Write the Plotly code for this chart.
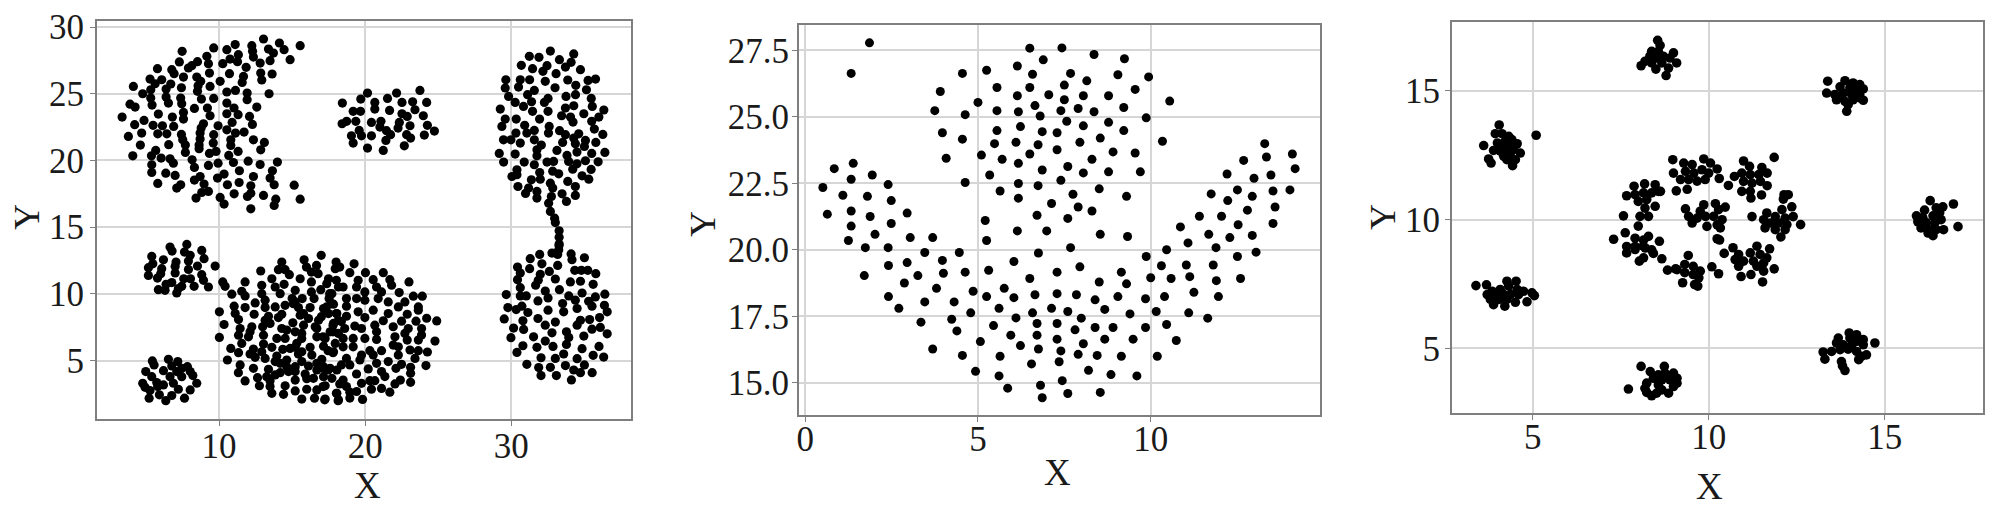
import plotly.graph_objects as go

# ---------- Panel 1 values (x, y) ----------
p1_crescent = [(13.04,29.1),(15.55,28.6),(14.13,28.8),(14.45,28.3),(12.24,28.6),(11.1,28.68),(9.63,28.43),(10.53,28.3),(12.29,28.18),(13.38,28.35),(13.72,28.05),(11.32,27.93),(10.75,27.6),(11.26,27.4),(12.35,27.75),(12.81,27.3),(13.49,27.48),(14.86,27.55),(7.47,28.18),(9.16,27.8),(7.28,27.38),(9.27,27.25),(10.25,27.25),(8.52,27.4),(8.13,27.1),(11.85,26.98),(5.78,26.88),(6.76,26.8),(7.9,26.93),(6.92,26.5),(9.34,26.55),(10.71,26.5),(12.85,26.55),(13.63,26.48),(7.56,26.25),(8.47,26.25),(11.67,26.3),(12.92,26.03),(5.27,26.1),(6.07,26.05),(8.74,25.93),(10.07,25.93),(11.58,25.85),(6.69,25.73),(5.62,25.75),(4.13,25.55),(8.56,25.6),(9.38,25.55),(7.42,25.45),(6.37,25.35),(5.32,25.3),(4.77,25),(8.52,25.18),(10.53,25.13),(11.12,25.25),(11.92,25.05),(13.42,25),(6.37,24.75),(5.32,24.68),(7.37,24.68),(8.79,24.6),(9.63,24.65),(11.92,24.55),(6.53,24.3),(5.41,24.15),(3.9,24.22),(4.25,24.0),(7.44,24.25),(10.53,24.3),(12.58,24),(8.31,23.9),(9.2,23.93),(11.02,23.93),(9.38,23.35),(7.56,23.6),(10.53,23.5),(11.3,23.43),(12.08,23.3),(5.84,23.48),(6.8,23.25),(3.36,23.25),(7.56,23.1),(4.86,23.0),(10.89,22.85),(4.22,22.68),(5.48,22.63),(6.12,22.6),(6.89,22.55),(8.93,22.75),(8.77,22.43),(9.93,22.6),(12.28,22.7),(10.53,22.3),(4.7,22.05),(5.8,22),(6.42,22),(8.7,22.05),(11.12,22.05),(11.71,22.13),(3.79,21.8),(7.42,21.95),(9.63,21.93),(8.7,21.6),(7.51,21.55),(10.8,21.55),(12.35,21.55),(9.6,21.3),(13.1,21.35),(4.61,21.15),(6.55,21.18),(7.69,21.15),(8.63,21.15),(10.8,21.13),(8.63,20.88),(12.85,20.8),(5.66,20.75),(7.69,20.6),(9.79,20.68),(9.34,20.53),(11.3,20.68),(4.09,20.35),(5.37,20.35),(10.66,20.38),(6.03,20.18),(6.64,20.13),(8.15,20.05),(10.98,19.85),(11.99,19.95),(13.99,19.88),(6.87,19.8),(9.93,19.8),(5.39,19.68),(9.27,19.63),(12.81,19.7),(8.31,19.48),(11.39,19.23),(13.65,19.23),(5.39,19.1),(6.35,19.05),(6.99,18.88),(10.34,18.98),(12.35,18.8),(8.7,18.8),(9.89,18.68),(8.31,18.53),(13.49,18.68),(5.8,18.28),(11.37,18.35),(13.77,18.18),(10.57,18.18),(8.97,18.23),(7.37,18.18),(15.14,18.15),(7.1,17.93),(12.17,18.1),(9.27,17.68),(8.81,17.6),(12.17,17.55),(11.03,17.5),(13.04,17.38),(11.94,17.3),(8.42,17.18),(10.07,17.23),(13.88,17.1),(15.55,17.1),(10.34,16.73),(13.77,16.63),(12.17,16.38)]
p1_middle = [(20.16,25.05),(22.15,25.05),(23.75,25.25),(18.44,24.3),(19.7,24.6),(21.53,24.65),(20.66,24.35),(22.52,24.35),(23.25,24.4),(24.21,24.35),(20.66,23.85),(19.18,23.68),(19.68,23.68),(21.67,23.75),(23.41,23.8),(22.52,23.5),(22.88,23.3),(23.98,23.35),(19.36,22.93),(18.73,22.93),(18.42,22.75),(20.43,22.85),(21.08,22.93),(22.34,22.85),(23.07,22.6),(24.26,22.63),(21.01,22.5),(22.25,22.43),(19.59,22.25),(21.46,22.23),(24.74,22.2),(19.06,21.85),(19.75,21.85),(20.43,21.85),(21.74,21.93),(22.84,21.93),(24.05,21.9),(23.11,21.68),(21.42,21.5),(19.18,21.3),(20.16,20.93),(22.68,21.1),(21.24,20.75)]
p1_right_upper = [(32.68,28.2),(34.28,27.98),(31.24,27.8),(31.9,27.73),(33.3,27.55),(34.1,27.35),(30.69,27.13),(33.71,27.0),(31.46,26.88),(32.45,27.1),(34.74,26.8),(32.17,26.68),(33.07,26.5),(35.77,26.1),(35.26,26.0),(29.63,26.05),(30.62,26.05),(31.26,26.05),(32.33,25.93),(33.87,26.03),(34.42,25.63),(29.59,25.43),(30.5,25.5),(33.0,25.45),(35.15,25.3),(31.58,25.25),(29.82,24.8),(31.12,24.93),(33.75,24.8),(34.4,24.93),(35.48,24.65),(32.52,24.65),(30.27,24.35),(31.39,24.4),(32.27,24.35),(30.84,24.05),(34.28,24.1),(35.55,24.05),(29.25,23.85),(36.34,23.78),(31.46,23.68),(32.52,23.68),(33.71,23.93),(34.97,23.5),(33.45,23.35),(34.06,23.25),(36.0,23.25),(29.59,23.1),(30.34,23.1),(31.94,23.1),(34.23,22.88),(35.51,22.93),(29.36,22.55),(30.92,22.63),(32.6,22.55),(35.69,22.35),(30.32,22.05),(31.58,22.25),(31.07,22.05),(32.55,22.05),(33.31,22.23),(36.27,21.95),(33.71,21.93),(34.62,22.0),(34.28,21.68),(29.47,21.55),(29.98,21.55),(31.58,21.55),(35.08,21.5),(30.62,21.3),(33.52,21.35),(35.79,21.35),(34.39,21.25),(35.01,21.05),(32.06,21.15),(31.76,20.8),(33.13,20.75),(36.41,20.6),(29.18,20.53),(30.27,20.48),(31.76,20.35),(34.5,20.63),(33.82,20.38),(35.51,20.53),(30.89,19.88),(29.48,19.88),(31.58,19.68),(32.45,19.88),(32.9,19.93),(33.93,19.93),(35.08,19.98),(35.95,19.9),(34.5,19.75),(30.39,19.3),(34.21,19.35),(35.47,19.33),(32.84,19.2),(31.95,19.1),(33.25,19.0),(30.39,18.93),(30.05,18.8),(34.85,18.85),(31.38,18.55),(31.99,18.6),(35.31,18.6),(33.87,18.43),(32.68,18.3),(30.46,18.05),(31.19,17.93),(32.84,17.93),(34.39,18.05),(31.76,17.68),(30.98,17.53),(33.48,17.5),(31.76,17.18),(32.75,17.3),(34.39,17.38),(33.78,16.93),(32.56,16.8),(32.68,16.18),(32.97,15.68),(33.02,15.35),(33.28,14.73),(33.28,14.25),(33.28,13.75),(33.25,13.3)]
p1_right_lower = [(33.27,13.63),(33.18,12.96),(32.79,13.06),(31.95,12.96),(31.3,12.64),(34.1,13.0),(34.16,12.56),(35.01,12.71),(33.18,12.14),(32.1,12.26),(30.43,12.01),(30.62,11.57),(31.26,11.89),(32.61,11.69),(34.35,11.77),(34.8,11.77),(35.24,11.77),(35.79,11.52),(31.99,11.47),(30.43,11.07),(31.85,11.02),(33.02,11.12),(34.05,10.9),(34.74,10.95),(35.61,10.72),(31.67,10.65),(30.62,10.47),(33.3,10.32),(32.33,10.22),(34.85,10.07),(29.66,9.95),(30.62,9.85),(31.03,9.85),(33.94,9.85),(36.41,9.98),(32.52,9.7),(35.76,9.78),(31.83,9.48),(34.39,9.53),(35.3,9.45),(33.52,9.28),(35.53,9.08),(29.77,8.98),(30.73,9.08),(30.34,8.83),(34.51,8.91),(36.38,9.15),(32.52,8.78),(33.59,8.66),(36.57,8.66),(31.14,8.61),(29.52,8.13),(31.83,8.16),(30.8,7.99),(33.02,7.89),(34.74,8.03),(35.37,8.08),(36.05,8.23),(32.33,7.66),(34.51,7.66),(30.16,7.44),(30.85,7.34),(35.53,7.36),(36.1,7.49),(32.79,7.09),(33.78,7.16),(34.97,6.84),(36.57,7.01),(29.98,6.72),(31.53,6.79),(33.94,6.74),(32.33,6.47),(33.78,6.22),(30.8,6.12),(31.76,6.0),(32.86,6.07),(36.01,6.07),(34.85,5.9),(30.39,5.62),(33.59,5.5),(35.61,5.4),(32.04,5.22),(36.33,5.27),(33.02,5.17),(34.51,5.15),(31.07,4.73),(35.01,4.68),(33.71,4.63),(32.68,4.5),(31.88,4.48),(34.28,4.3),(35.54,4.1),(32.04,3.88),(33.09,3.88),(34.74,4.1),(34.12,3.56)]
p1_upper_small = [(7.79,13.71),(6.64,13.51),(6.78,13.21),(8.81,13.26),(7.63,13.14),(8.02,12.89),(5.39,12.81),(8.97,12.64),(6.19,12.56),(7.9,12.46),(7.05,12.39),(5.46,12.26),(8.52,12.09),(9.73,12.09),(6.99,12.06),(5.16,11.97),(6.07,11.89),(7.9,11.84),(6.99,11.57),(5.16,11.39),(6.0,11.52),(5.78,11.19),(8.81,11.44),(7.58,11.14),(8.04,11.14),(8.93,11.02),(6.76,10.85),(6.37,10.72),(7.44,10.57),(8.29,10.57),(9.27,10.52),(7.21,10.4),(5.84,10.32),(6.3,10.27),(7.1,10.07)]
p1_lower_small = [(6.53,5.1),(5.43,4.98),(7.17,4.93),(5.55,4.68),(6.76,4.6),(7.83,4.55),(4.98,4.18),(6.19,4.25),(7.1,4.18),(8.02,4.18),(5.39,3.8),(6.64,3.8),(7.44,3.8),(8.2,3.88),(4.77,3.31),(5.73,3.36),(6.19,3.18),(6.87,3.31),(8.47,3.31),(4.93,3.0),(7.21,2.86),(8.02,2.81),(5.27,2.76),(5.91,2.44),(6.76,2.39),(5.21,2.19),(6.35,2.0),(7.63,2.19),(5.8,3.06),(7.44,4.43)]
p1_big_left = [(10.25,10.9),(10.41,10.57),(11.78,10.9),(12.85,11.72),(14.29,12.39),(15.82,12.56),(16.99,12.89),(14.06,11.82),(14.52,11.82),(14.81,11.44),(16.67,12.14),(15.98,12.01),(16.32,11.64),(16.78,11.52),(18.01,12.39),(17.95,11.89),(13.61,11.14),(14.45,10.72),(15.55,11.14),(17.49,11.14),(12.92,10.65),(13.84,10.52),(16.32,10.9),(17.37,10.77),(11.55,10.2),(10.87,9.98),(11.78,9.85),(12.92,10.02),(14.18,10.02),(15.21,10.27),(16.32,10.15),(16.96,10.32),(17.72,10.02),(13.15,9.53),(15.0,9.65),(15.69,9.65),(16.5,9.65),(17.53,9.65),(11.03,9.08),(12.47,9.33),(11.78,8.98),(13.15,8.98),(13.84,9.03),(14.52,9.15),(15.43,8.98),(16.23,8.98),(17.15,8.91),(17.83,9.23),(10.02,8.66),(12.4,8.48),(11.1,8.53),(14.29,8.48),(13.38,8.33),(15.55,8.41),(16.81,8.03),(17.49,8.53),(18.06,8.53),(10.34,7.71),(11.33,8.08),(12.98,7.54),(13.49,7.79),(15.05,7.84),(15.78,7.66),(16.69,7.41),(17.83,7.79),(11.44,7.41),(12.24,7.54),(14.29,7.41),(15.21,7.16),(17.6,7.16),(10.02,6.74),(11.33,6.91),(12.01,6.79),(13.04,6.91),(13.95,6.67),(14.52,6.67),(15.66,6.67),(16.69,6.79),(18.17,7.04),(11.55,6.29),(13.04,6.24),(17.15,6.09),(10.8,5.92),(12.35,5.87),(13.61,6.0),(14.36,5.85),(15.21,6.0),(16.23,6.0),(17.83,5.67),(11.33,5.6),(12.12,5.5),(12.92,5.67),(13.95,5.35),(15.43,5.5),(16.35,5.42),(10.57,5.05),(12.47,5.25),(13.15,5.17),(14.63,5.05),(15.66,4.93),(17.03,5.1),(13.84,4.93),(11.44,4.68),(12.35,4.43),(13.38,4.35),(14.63,4.55),(16.12,4.6),(17.6,4.43),(16.69,4.3),(11.32,4.1),(14.18,4.1),(14.75,4.18),(13.84,3.93),(15.89,4.0),(17.15,3.8),(11.78,3.48),(12.63,3.73),(13.49,3.5),(15.21,3.55),(16.0,3.65),(12.76,3.12),(14.52,3.12),(17.26,3.12),(13.61,2.55),(14.41,2.48),(15.21,2.73),(16.0,2.86),(16.69,2.81),(18.06,2.55),(15.66,2.12),(16.53,2.19),(17.26,2.12),(18.17,2.07),(13.49,3.06),(18.17,8.03),(15.32,6.3),(18.17,10.52),(15.09,9.27)]
p1_big_extra = [(15.21,9.4),(15.78,8.53),(14.06,8.23),(13.15,8.03),(12.12,7.16),(16.12,8.16),(16.58,7.54),(14.63,7.29),(15.66,7.04),(17.26,6.67),(14.86,5.92),(15.66,5.67),(14.18,4.8),(15.21,4.55),(16.69,4.8),(13.26,3.8),(15.21,4.18),(16.46,3.68),(17.15,4.55),(17.95,6.29),(18.06,4.3),(17.72,3.68)]
p1_big_right = [(18.26,12.01),(19.24,12.26),(18.95,11.59),(20.02,11.59),(21.24,11.59),(18.03,11.02),(19.52,11.02),(20.55,11.07),(21.69,11.07),(23.0,10.9),(18.49,10.52),(19.41,10.52),(20.78,10.52),(21.81,10.65),(17.57,10.02),(18.72,9.65),(19.98,10.15),(21.12,10.15),(22.33,10.1),(19.41,9.65),(23.3,9.83),(23.91,9.83),(19.98,9.53),(20.89,9.65),(21.58,9.4),(22.72,9.4),(17.69,9.28),(18.72,9.08),(22.27,9.03),(23.64,9.03),(19.52,8.66),(20.55,8.78),(23.64,8.78),(21.58,8.53),(18.03,8.53),(18.72,8.33),(22.88,8.48),(19.98,8.23),(24.21,8.18),(21.24,7.99),(22.49,7.96),(23.48,7.96),(24.9,7.98),(20.66,7.66),(19.29,7.59),(17.8,7.66),(21.92,7.54),(22.95,7.41),(23.86,7.41),(18.6,7.41),(19.75,7.41),(17.8,7.16),(20.78,7.16),(22.72,7.04),(23.86,6.92),(19.98,6.67),(18.49,6.67),(19.18,6.67),(20.78,6.59),(22.04,6.79),(22.88,6.54),(23.64,6.54),(24.78,6.47),(21.92,6.17),(18.49,6.04),(19.18,6.04),(22.27,6.04),(17.46,5.75),(17.8,5.6),(20.32,5.75),(21.12,5.75),(23.07,5.8),(23.64,5.75),(24.26,5.65),(19.75,5.42),(20.55,5.42),(22.27,5.42),(18.72,5.17),(23.41,5.17),(19.64,5.05),(20.78,4.8),(21.58,4.93),(22.49,4.73),(17.12,4.43),(18.37,4.68),(18.95,4.68),(20.21,4.38),(22.11,4.43),(23.11,4.5),(24.16,4.63),(17.46,4.3),(21.12,4.18),(19.41,4.0),(21.35,3.81),(23.11,4.05),(18.49,3.55),(20.32,3.5),(20.66,3.5),(22.41,3.55),(17.12,3.06),(18.26,3.26),(19.75,3.3),(23.11,3.38),(22.04,3.26),(18.72,3.06),(20.43,2.86),(21.12,2.92),(21.69,2.64),(18.03,2.56),(19.41,2.69),(18.95,2.64),(17.23,2.07),(18.15,2.0),(18.95,2.2),(19.82,2.1),(18.37,7.93),(17.35,9.03),(17.12,6.79),(17.0,8.3)]

# ---------- Panel 2 values (x, y) ----------
p2_left_top = [(1.86,27.78),(1.33,26.63),(4.55,26.63),(5.25,26.75),(6.14,26.91),(3.91,25.95),(5.55,26.1),(6.14,25.79),(3.75,25.23),(4.63,25.08),(5.0,25.54),(5.55,25.23),(6.17,25.19),(3.97,24.4),(4.55,24.16),(5.55,24.48),(6.23,24.63),(5.48,23.99),(6.1,24.04),(4.08,23.44),(5.1,23.56),(5.7,23.4),(6.17,23.25),(5.34,22.81),(4.63,22.53),(5.64,22.21),(6.17,22.49),(6.17,21.94),(5.21,21.1),(6.14,20.71),(5.25,20.35),(4.46,19.9),(1.39,23.25),(0.84,23.05),(1.33,22.65),(1.94,22.81),(0.51,22.34),(2.4,22.45),(1.09,22.05),(1.8,22.01),(2.49,21.85),(0.64,21.34),(1.33,21.46),(1.88,21.25),(2.95,21.38),(1.33,20.89),(2.49,20.99),(2.02,20.58),(1.25,20.35),(3.04,20.46),(3.69,20.46),(1.74,20.08),(2.4,20.08),(3.46,19.9)]
p2_right_top = [(6.5,27.58),(7.43,27.59),(8.36,27.34),(9.24,27.18),(6.89,27.14),(6.58,26.6),(7.68,26.63),(9.05,26.58),(9.94,26.5),(8.15,26.35),(7.5,26.19),(6.5,26.1),(9.55,26.03),(7.05,25.83),(8.05,25.79),(8.78,25.79),(7.5,25.64),(10.55,25.59),(6.65,25.42),(9.22,25.35),(7.4,25.23),(7.9,25.31),(8.36,25.19),(6.8,25.03),(9.87,24.96),(7.57,24.83),(8.78,24.79),(8.05,24.66),(9.22,24.48),(6.86,24.44),(7.29,24.4),(8.54,24.2),(6.74,23.95),(7.95,24.04),(10.34,24.08),(7.29,23.76),(6.5,23.6),(8.91,23.68),(9.55,23.64),(8.3,23.4),(7.6,23.13),(6.86,23.0),(8.05,22.89),(8.78,22.93),(9.7,22.93),(7.4,22.61),(6.74,22.41),(8.51,22.29),(7.75,22.09),(9.3,22.01),(7.13,21.74),(7.9,21.61),(8.3,21.46),(6.71,21.3),(7.6,21.18),(6.99,20.71),(8.54,20.58),(9.33,20.5),(6.75,19.88),(7.68,20.08),(9.87,19.75)]
p2_wing = [(13.3,23.99),(14.1,23.6),(13.35,23.49),(12.69,23.36),(14.18,23.05),(12.21,22.85),(13.48,22.81),(12.99,22.69),(13.54,22.21),(14.03,22.25),(12.51,22.25),(11.75,22.1),(12.94,22.01),(12.23,21.85),(13.6,21.61),(12.8,21.49),(11.41,21.26),(12.05,21.26),(10.86,20.86),(12.53,20.94),(13.54,20.99),(11.68,20.58),(12.29,20.46),(12.94,20.54),(11.08,20.26),(11.89,20.08),(10.46,20.0),(13.05,19.91),(12.51,19.75)]
p2_low_left = [(3.97,19.6),(2.95,19.52),(2.41,19.41),(6.04,19.56),(4.0,19.12),(4.63,19.16),(5.31,19.23),(3.26,19.03),(1.71,19.03),(2.87,18.75),(3.8,18.55),(5.76,18.55),(4.86,18.44),(2.41,18.24),(5.25,18.24),(6.04,18.2),(2.71,17.8),(3.46,18.04),(4.31,18.04),(5.61,17.8),(4.79,17.63),(6.1,17.44),(4.24,17.39),(3.35,17.28),(5.45,17.15),(4.39,16.95),(5.95,16.79),(5.07,16.55),(6.23,16.4),(3.69,16.27),(4.55,16.03),(5.64,16.0),(4.93,15.43),(5.61,15.26),(5.86,14.8)]
p2_low_right = [(7.29,19.16),(7.95,19.36),(9.15,19.16),(6.5,18.92),(8.51,18.79),(9.3,18.72),(10.0,18.95),(10.59,18.92),(10.31,19.4),(11.03,19.43),(11.81,19.43),(11.13,18.99),(11.9,18.84),(12.6,18.92),(6.65,18.31),(7.29,18.35),(7.85,18.31),(8.39,18.12),(9.05,18.24),(9.85,18.16),(10.4,18.24),(11.25,18.4),(11.96,18.24),(7.13,17.8),(6.58,17.63),(7.6,17.68),(8.67,17.76),(9.4,17.59),(10.16,17.68),(11.1,17.63),(7.99,17.43),(11.65,17.43),(6.71,17.23),(7.29,17.23),(8.39,17.08),(7.81,16.99),(8.91,17.08),(9.85,17.08),(10.46,17.19),(6.71,16.79),(7.29,16.64),(8.67,16.64),(9.49,16.64),(10.74,16.59),(8.05,16.47),(6.75,16.27),(7.4,16.2),(7.9,16.07),(8.45,16.03),(9.15,16.0),(10.19,16.0),(6.55,15.71),(7.35,15.79),(8.2,15.47),(8.85,15.31),(9.6,15.26),(7.44,15.08),(6.81,14.91),(7.6,14.6),(8.54,14.64),(6.86,14.44)]

# ---------- Panel 3 values (x, y) ----------
p3_a = [(4.05,13.68),(3.94,13.34),(4.13,13.34),(5.1,13.28),(4.32,13.24),(4.41,13.11),(3.61,12.88),(4.0,12.98),(4.22,13.04),(4.56,12.95),(4.13,12.85),(4.32,12.85),(3.89,12.69),(4.08,12.66),(4.27,12.66),(4.46,12.72),(4.65,12.59),(4.18,12.46),(4.37,12.46),(3.75,12.36),(3.82,12.2),(4.27,12.33),(4.51,12.33),(4.43,12.1)]
p3_b = [(8.55,16.97),(8.62,16.77),(8.38,16.54),(8.57,16.54),(9.0,16.48),(8.33,16.35),(8.51,16.28),(8.71,16.35),(8.9,16.28),(8.19,16.15),(8.38,16.09),(8.67,16.09),(9.09,16.09),(8.08,15.98),(8.5,15.85),(8.86,15.89),(8.79,15.6)]
p3_c = [(13.38,15.38),(13.87,15.4),(14.1,15.31),(14.29,15.25),(14.39,15.08),(13.73,15.16),(14.01,15.12),(14.2,15.05),(13.35,14.92),(13.58,14.86),(13.82,14.92),(14.06,14.86),(14.29,14.86),(14.39,14.64),(13.63,14.66),(13.87,14.6),(14.1,14.66),(14.29,14.73),(13.92,14.21),(13.96,14.47),(13.73,14.79)]
p3_d = [(16.29,10.74),(16.95,10.61),(16.65,10.5),(16.46,10.46),(16.13,10.37),(16.56,10.27),(15.9,10.15),(16.08,10.08),(16.37,10.15),(16.6,10.0),(15.94,9.92),(16.18,9.89),(16.42,9.87),(16.03,9.68),(16.27,9.61),(16.46,9.61),(16.67,9.61),(17.08,9.73),(16.37,9.38),(16.23,9.48)]
p3_e = [(8.98,12.33),(9.0,11.81),(9.29,12.2),(9.53,12.14),(9.86,12.36),(10.05,12.2),(9.34,11.88),(9.58,11.81),(9.81,11.94),(10.0,11.81),(10.24,11.97),(9.2,11.56),(9.43,11.56),(9.67,11.5),(9.9,11.56),(10.3,11.6),(9.08,11.12),(9.39,11.18),(8.63,11.1)]
p3_f = [(11.86,12.42),(10.99,12.28),(11.16,12.07),(11.51,12.03),(10.73,11.68),(10.94,11.81),(11.18,11.75),(11.42,11.75),(11.66,11.81),(10.99,11.49),(11.23,11.42),(11.47,11.49),(11.66,11.32),(10.56,11.33),(10.94,11.1),(11.2,10.84),(11.18,11.1),(11.5,10.96)]
p3_g = [(9.34,10.42),(9.86,10.58),(10.19,10.62),(10.47,10.49),(9.76,10.33),(10.28,10.39),(9.43,10.13),(9.67,10.06),(9.91,10.13),(10.14,10.13),(10.38,10.0),(9.53,9.87),(9.95,9.74),(10.24,9.8),(10.33,9.68)]
p3_h = [(12.14,10.97),(12.26,10.97),(12.12,10.8),(12.36,10.5),(12.08,10.39),(11.65,10.26),(11.23,10.12),(11.89,10.12),(11.56,10.0),(12.17,10.06),(12.4,10.12),(11.75,9.87),(11.98,9.87),(12.22,9.81),(12.61,9.81),(11.6,9.68),(11.89,9.61),(12.17,9.61),(12.05,9.33)]
p3_i = [(7.88,11.3),(8.18,11.39),(8.48,11.36),(8.57,11.1),(7.67,10.93),(7.91,10.97),(8.15,11.04),(8.38,11.04),(8.0,10.71),(8.24,10.78),(8.48,10.52),(8.19,10.45),(7.58,10.15),(8.05,10.13),(8.29,10.13)]
p3_j = [(7.3,9.24),(7.63,9.49),(8.0,9.75),(8.29,9.35),(8.6,9.16),(7.91,9.28),(8.15,9.21),(7.67,8.96),(7.91,8.96),(8.2,8.9),(8.38,8.83),(7.67,8.71),(7.91,8.84),(8.14,8.97),(8.03,8.39),(8.15,8.52),(8.43,8.69),(8.67,8.48)]
p3_k = [(8.83,8.04),(9.1,8.06),(9.42,8.61),(9.32,8.26),(9.56,8.19),(9.32,7.94),(9.56,7.87),(9.26,7.55),(9.6,7.48),(9.76,8.0),(9.06,8.09),(9.72,7.74),(9.69,7.42),(10.09,8.17),(10.28,7.9),(10.31,9.21),(10.24,9.26)]
p3_l = [(10.69,8.91),(11.73,8.87),(11.37,8.97),(10.44,8.69),(10.85,8.65),(11.18,8.71),(11.46,8.65),(11.65,8.52),(10.75,8.45),(10.99,8.39),(11.27,8.39),(11.56,8.32),(10.85,8.19),(11.37,8.19),(11.86,8.09),(11.56,8.0),(10.92,7.79),(11.2,7.87),(11.53,7.58)]
p3_m = [(3.39,7.44),(3.69,7.47),(4.27,7.61),(4.53,7.61),(4.32,7.42),(4.08,7.29),(3.85,7.22),(4.56,7.29),(4.74,7.22),(4.98,7.16),(5.05,7.05),(3.71,7.09),(3.94,7.03),(4.18,7.09),(4.37,7.09),(4.6,7.09),(3.8,6.9),(4.04,6.9),(4.27,6.9),(4.51,6.79),(4.84,6.81),(3.89,6.7),(4.21,6.64)]
p3_n = [(8.08,4.3),(8.74,4.3),(7.72,3.42),(8.34,4.1),(9.0,4.04),(8.57,3.97),(8.76,4.04),(9.1,3.84),(8.43,3.84),(8.67,3.78),(8.9,3.78),(9.1,3.65),(8.24,3.65),(8.57,3.58),(9.0,3.52),(8.19,3.45),(8.67,3.39),(8.86,3.26),(8.38,3.16),(8.24,3.29),(8.52,3.26)]
p3_o = [(13.99,5.6),(14.2,5.53),(13.68,5.4),(14.39,5.34),(14.72,5.21),(14.01,5.4),(14.2,5.27),(13.63,5.21),(14.39,5.14),(13.82,5.14),(14.06,5.14),(13.25,4.86),(13.49,4.88),(13.73,4.95),(13.96,4.97),(14.2,4.88),(14.48,4.75),(14.34,4.69),(13.3,4.58),(14.26,4.56),(13.77,4.49),(13.8,4.32),(13.87,4.14)]

x_ticks = [[10, 20, 30], [0, 5, 10], [5, 10, 15]]
y_ticks = [[5, 10, 15, 20, 25, 30], [15.0, 17.5, 20.0, 22.5, 25.0, 27.5], [5, 10, 15]]
y_labels = [["5", "10", "15", "20", "25", "30"], ["15.0", "17.5", "20.0", "22.5", "25.0", "27.5"], ["5", "10", "15"]]
x_title = "X"
y_title = "Y"

panels = [
    [p1_crescent, p1_middle, p1_right_upper, p1_right_lower, p1_upper_small, p1_lower_small, p1_big_left, p1_big_extra, p1_big_right],
    [p2_left_top, p2_right_top, p2_wing, p2_low_left, p2_low_right],
    [p3_a, p3_b, p3_c, p3_d, p3_e, p3_f, p3_g, p3_h, p3_i, p3_j, p3_k, p3_l, p3_m, p3_n, p3_o],
]

# plot-area geometry (pixels in the 2000x512 page) and axis ranges
W, H = 2000, 512
boxes = [(97, 631, 21, 419), (799, 1320, 25, 415), (1452, 1983, 22, 413)]
x_ranges = [(1.64, 38.2), (-0.18, 14.9), (2.71, 17.79)]
y_ranges = [(0.63, 30.45), (13.79, 28.45), (2.49, 17.68)]
marker_sizes = [9.2, 9.0, 9.6]
x_label_shift = [-10, -13, -13]
y_label_shift = [-1, -4, -2]
x_title_pos = [(367, 485), (1057, 472), (1709, 486)]
y_title_pos = [(27, 217), (703, 224), (1383, 217)]

FONT = "Liberation Serif"
GRID = "#d6d6d6"
AXIS = "#7f7f7f"
TEXT = "#1a1a1a"

fig = go.Figure()
for i, clusters in enumerate(panels):
    sfx = "" if i == 0 else str(i + 1)
    xs = [p[0] for c in clusters for p in c]
    ys = [p[1] for c in clusters for p in c]
    fig.add_trace(go.Scatter(x=xs, y=ys, mode="markers", xaxis="x" + sfx, yaxis="y" + sfx,
                             marker=dict(color="#000000", size=marker_sizes[i], line=dict(width=0)),
                             showlegend=False, cliponaxis=False))
    l, r, t, b = boxes[i]
    common = dict(showline=True, linecolor=AXIS, linewidth=2, mirror=True, showgrid=True,
                  gridcolor=GRID, gridwidth=1.6, zeroline=False, ticks="outside", ticklen=5,
                  tickcolor=AXIS, tickwidth=1, automargin=False,
                  tickfont=dict(family=FONT, size=35, color=TEXT))
    fig.layout["xaxis" + sfx] = dict(domain=[l / W, r / W], range=list(x_ranges[i]),
                                     tickmode="array", tickvals=x_ticks[i],
                                     ticktext=[str(v) for v in x_ticks[i]], anchor="y" + sfx,
                                     ticklabelstandoff=x_label_shift[i], **common)
    fig.layout["yaxis" + sfx] = dict(domain=[1 - b / H, 1 - t / H], range=list(y_ranges[i]),
                                     tickmode="array", tickvals=y_ticks[i], ticktext=y_labels[i],
                                     anchor="x" + sfx, ticklabelstandoff=y_label_shift[i], **common)
    px, py = x_title_pos[i]
    fig.add_annotation(text=x_title, xref="paper", yref="paper", x=px / W, y=1 - py / H,
                       xanchor="center", yanchor="middle", showarrow=False,
                       font=dict(family=FONT, size=37, color=TEXT))
    px, py = y_title_pos[i]
    fig.add_annotation(text=y_title, xref="paper", yref="paper", x=px / W, y=1 - py / H,
                       xanchor="center", yanchor="middle", showarrow=False, textangle=-90,
                       font=dict(family=FONT, size=36, color=TEXT))

fig.update_layout(width=W, height=H, margin=dict(l=0, r=0, t=0, b=0), autosize=False,
                  paper_bgcolor="white", plot_bgcolor="white", showlegend=False)
fig.write_html("out.html", config={"displayModeBar": False},
               post_script="document.body.style.margin='0';document.body.style.overflow='hidden';")
